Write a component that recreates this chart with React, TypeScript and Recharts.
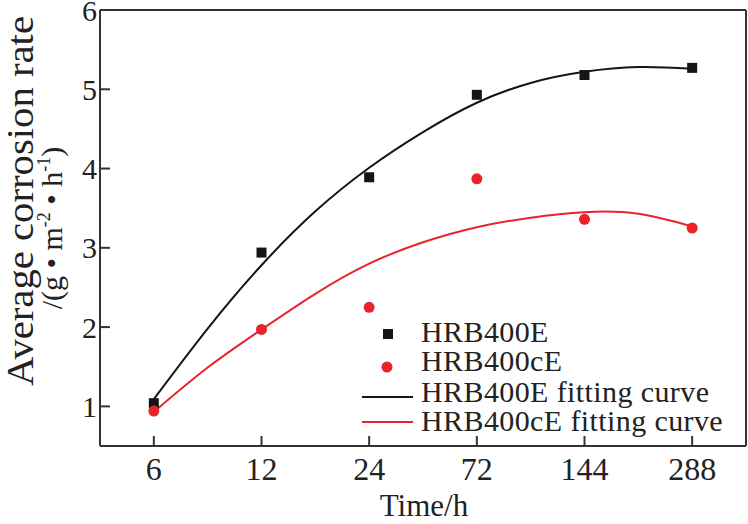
import React from 'react';
import { ComposedChart, Line, Scatter, XAxis, YAxis, ReferenceLine, Legend } from 'recharts';

// time categories are drawn at evenly spaced positions 0..5
const timeLabels = ['6', '12', '24', '72', '144', '288'];
const timePositions = [0, 1, 2, 3, 4, 5];
const hrb400e = [1.04, 2.94, 3.89, 4.93, 5.18, 5.27];
const hrb400ce = [0.94, 1.97, 2.25, 3.87, 3.36, 3.25];

// fitting curves at half-step positions
const fitPositions = [0, 0.5, 1, 1.5, 2, 2.5, 3, 3.5, 4, 4.5, 5];
const hrb400eFit = [1.09, 1.98, 2.78, 3.46, 4.01, 4.46, 4.83, 5.08, 5.22, 5.28, 5.26];
const hrb400ceFit = [0.93, 1.49, 1.97, 2.42, 2.8, 3.07, 3.26, 3.38, 3.45, 3.43, 3.27];

const yTicks = [1, 2, 3, 4, 5, 6];

const FONT = '"Liberation Serif", "Times New Roman", serif';
const AXIS = '#333';
const BLACK = '#151515';
const RED = '#e8232b';
const TEXT = '#222';

const toPoints = (xs: number[], ys: number[]) => xs.map((x, i) => ({ x, y: ys[i] }));

const XTick = ({ x, y, payload }: any) => (
  <g>
    <line x1={x} y1={y} x2={x} y2={y - 10} stroke={AXIS} strokeWidth={2} />
    <text x={x} y={y + 34} textAnchor="middle" fontSize={32} fontFamily={FONT} fill={TEXT}>
      {timeLabels[payload.value]}
    </text>
  </g>
);

const YTick = ({ x, y, payload }: any) => (
  <g>
    <line x1={x} y1={y} x2={x + 10} y2={y} stroke={AXIS} strokeWidth={2} />
    <text x={x - 3} y={y + 10.5} textAnchor="end" fontSize={30} fontFamily={FONT} fill={TEXT}>
      {payload.value}
    </text>
  </g>
);

const YTitle = () => (
  <g>
    <text
      transform="rotate(-90)"
      x={-201}
      y={33}
      textAnchor="middle"
      fontSize={38}
      fontFamily={FONT}
      fill={TEXT}
      textLength={370}
      lengthAdjust="spacingAndGlyphs"
    >
      Average corrosion rate
    </text>
    <text transform="rotate(-90)" x={-228} y={62} textAnchor="middle" fontSize={30} fontFamily={FONT} fill={TEXT}>
      /(g • m<tspan fontSize={18} dy={-12}>-2</tspan>
      <tspan dy={12}> • h</tspan>
      <tspan fontSize={18} dy={-12}>-1</tspan>
      <tspan dy={12}>)</tspan>
    </text>
  </g>
);

const XTitle = () => (
  <text x={424} y={516} textAnchor="middle" fontSize={31} fontFamily={FONT} fill={TEXT}>
    Time/h
  </text>
);

const LegendBox = () => (
  <svg width={400} height={130} style={{ overflow: 'visible' }}>
    <rect x={33} y={19} width={10} height={10} fill={BLACK} />
    <circle cx={37} cy={57} r={5.5} fill={RED} />
    <line x1={12} y1={87} x2={63} y2={87} stroke={BLACK} strokeWidth={2} />
    <line x1={12} y1={112} x2={63} y2={112} stroke={RED} strokeWidth={2} />
    <text x={71} y={32} fontFamily={FONT} fontSize={30} fill={TEXT} letterSpacing={0.4}>HRB400E</text>
    <text x={71} y={61} fontFamily={FONT} fontSize={30} fill={TEXT} letterSpacing={0.4}>HRB400cE</text>
    <text x={71} y={92} fontFamily={FONT} fontSize={30} fill={TEXT} letterSpacing={0.4}>HRB400E fitting curve</text>
    <text x={71} y={121} fontFamily={FONT} fontSize={30} fill={TEXT} letterSpacing={0.4}>HRB400cE fitting curve</text>
  </svg>
);

const SquareDot = ({ cx, cy }: any) => <rect x={cx - 5} y={cy - 5} width={10} height={10} fill={BLACK} />;
const RoundDot = ({ cx, cy }: any) => <circle cx={cx} cy={cy} r={5.5} fill={RED} />;

export default function App() {
  return (
    <div style={{ position: 'absolute', left: 0, top: 0, background: '#fff' }}>
      <ComposedChart width={748} height={524} margin={{ top: 10, right: 2, left: 0, bottom: 0 }}>
        <XAxis
          type="number"
          dataKey="x"
          domain={[-0.5, 5.5]}
          ticks={timePositions}
          height={78}
          tickSize={0}
          tickMargin={0}
          tickLine={false}
          tick={<XTick />}
          axisLine={{ stroke: AXIS, strokeWidth: 2 }}
          label={<XTitle />}
        />
        <YAxis
          type="number"
          domain={[0.5, 6]}
          ticks={yTicks}
          width={100}
          tickSize={0}
          tickMargin={0}
          tickLine={false}
          tick={<YTick />}
          axisLine={{ stroke: AXIS, strokeWidth: 2 }}
          label={<YTitle />}
        />
        <ReferenceLine y={6} stroke={AXIS} strokeWidth={2} />
        <ReferenceLine x={5.5} stroke={AXIS} strokeWidth={2} />
        <Line
          data={toPoints(fitPositions, hrb400eFit)}
          dataKey="y"
          type="natural"
          stroke={BLACK}
          strokeWidth={2}
          dot={false}
          activeDot={false}
          isAnimationActive={false}
        />
        <Line
          data={toPoints(fitPositions, hrb400ceFit)}
          dataKey="y"
          type="natural"
          stroke={RED}
          strokeWidth={2}
          dot={false}
          activeDot={false}
          isAnimationActive={false}
        />
        <Scatter data={toPoints(timePositions, hrb400e)} dataKey="y" shape={<SquareDot />} isAnimationActive={false} />
        <Scatter data={toPoints(timePositions, hrb400ce)} dataKey="y" shape={<RoundDot />} isAnimationActive={false} />
        <Legend
          layout="horizontal"
          verticalAlign="middle"
          align="center"
          wrapperStyle={{ left: 350, top: 310, width: 400, height: 130 }}
          content={() => <LegendBox />}
        />
      </ComposedChart>
    </div>
  );
}
